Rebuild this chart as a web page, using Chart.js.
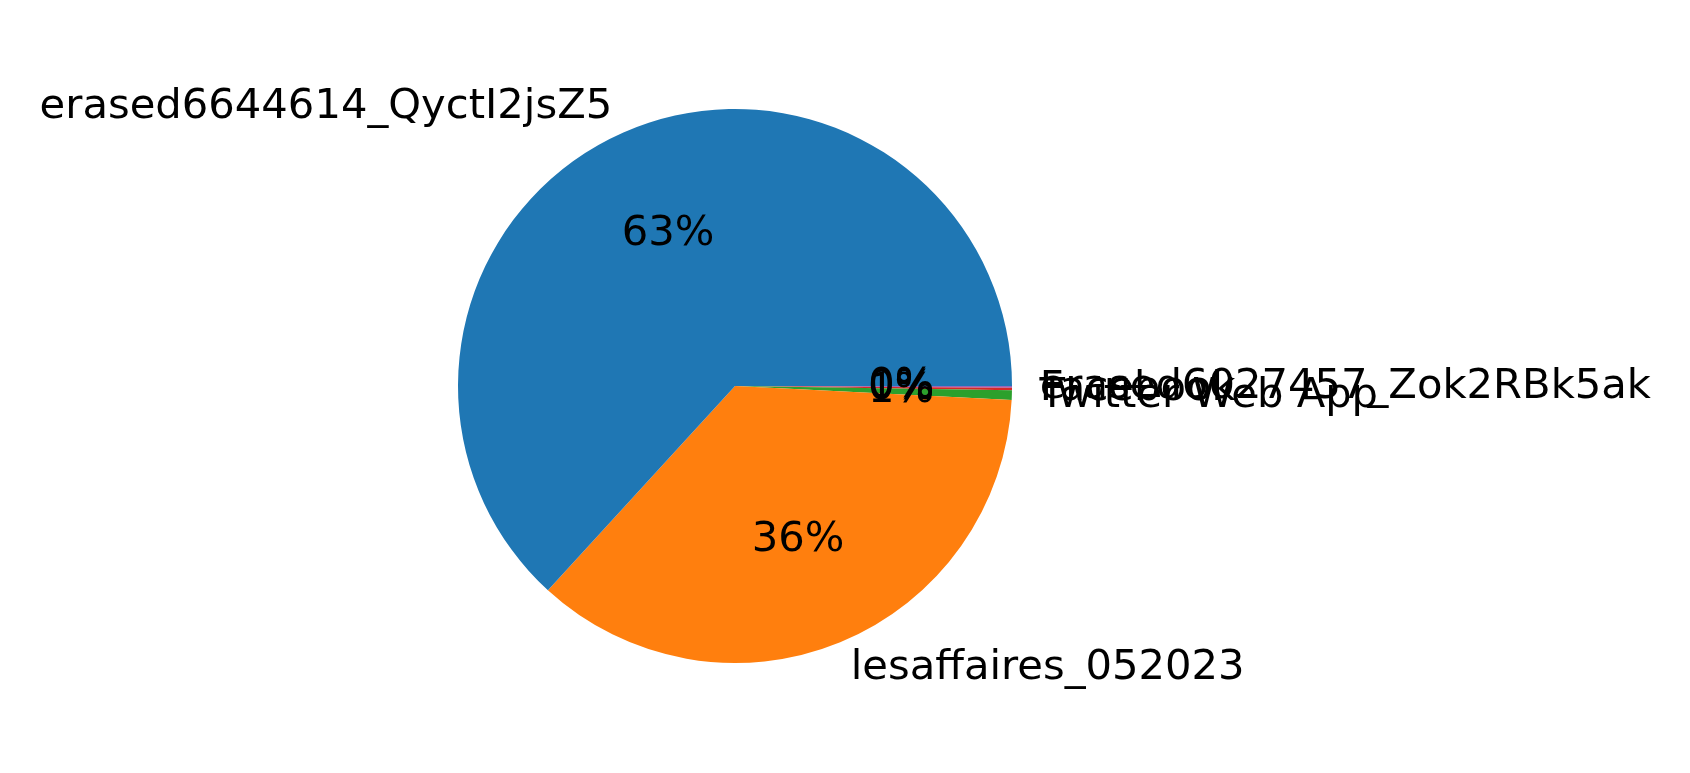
<!DOCTYPE html>
<html>
<head>
<meta charset="utf-8">
<script src="https://cdn.jsdelivr.net/npm/chart.js@4.4.0/dist/chart.umd.min.js"></script>
<style>
  html, body { margin: 0; padding: 0; background: #fff; }
  #wrap { width: 1690px; height: 773px; position: relative; }
</style>
</head>
<body>
<div id="wrap"><canvas id="pie"></canvas></div>
<script>
  // source shares (matplotlib order, counter-clockwise from 3 o'clock)
  const labels = ["erased6644614_QyctI2jsZ5", "lesaffaires_052023", "Twitter Web App", "Facebook", "erased6027457_Zok2RBk5ak"];
  const shares = [63.2, 36.0, 0.55, 0.15, 0.1];
  const colors = ["#1f77b4", "#ff7f0e", "#2ca02c", "#d62728", "#9467bd"];

  const FONT = "41.7px 'DejaVu Sans'";
  const total = shares.reduce((a, b) => a + b, 0);

  // Chart.js goes clockwise, matplotlib counter-clockwise: reverse and start at 3 o'clock
  const rev = a => a.slice().reverse();

  const pieText = {
    id: "pieText",
    afterDatasetsDraw(chart) {
      const ctx = chart.ctx;
      const arcs = chart.getDatasetMeta(0).data;
      const n = arcs.length;
      ctx.save();
      ctx.font = FONT;
      ctx.fillStyle = "#000";
      ctx.textBaseline = "middle";
      // draw in original order so later labels sit on top, like matplotlib
      for (let i = 0; i < n; i++) {
        const arc = arcs[n - 1 - i];
        const p = arc.getProps(["x", "y", "startAngle", "endAngle", "outerRadius"], true);
        const mid = (p.startAngle + p.endAngle) / 2;
        const c = Math.cos(mid), s = Math.sin(mid);
        ctx.textAlign = c >= 0 ? "left" : "right";
        ctx.fillText(labels[i], p.x + 1.1 * p.outerRadius * c, p.y + 1.1 * p.outerRadius * s);
        ctx.textAlign = "center";
        ctx.fillText(Math.round(shares[i] / total * 100) + "%", p.x + 0.6 * p.outerRadius * c, p.y + 0.6 * p.outerRadius * s);
      }
      ctx.restore();
    }
  };

  new Chart(document.getElementById("pie"), {
    type: "pie",
    data: {
      labels: rev(labels),
      datasets: [{ data: rev(shares), backgroundColor: rev(colors), borderWidth: 0 }]
    },
    options: {
      responsive: true, maintainAspectRatio: false, animation: false, devicePixelRatio: 1,
      rotation: 90,
      layout: { padding: { left: 458, right: 678, top: 109, bottom: 110 } },
      plugins: { legend: { display: false }, tooltip: { enabled: false } }
    },
    plugins: [pieText]
  });
</script>
</body>
</html>
